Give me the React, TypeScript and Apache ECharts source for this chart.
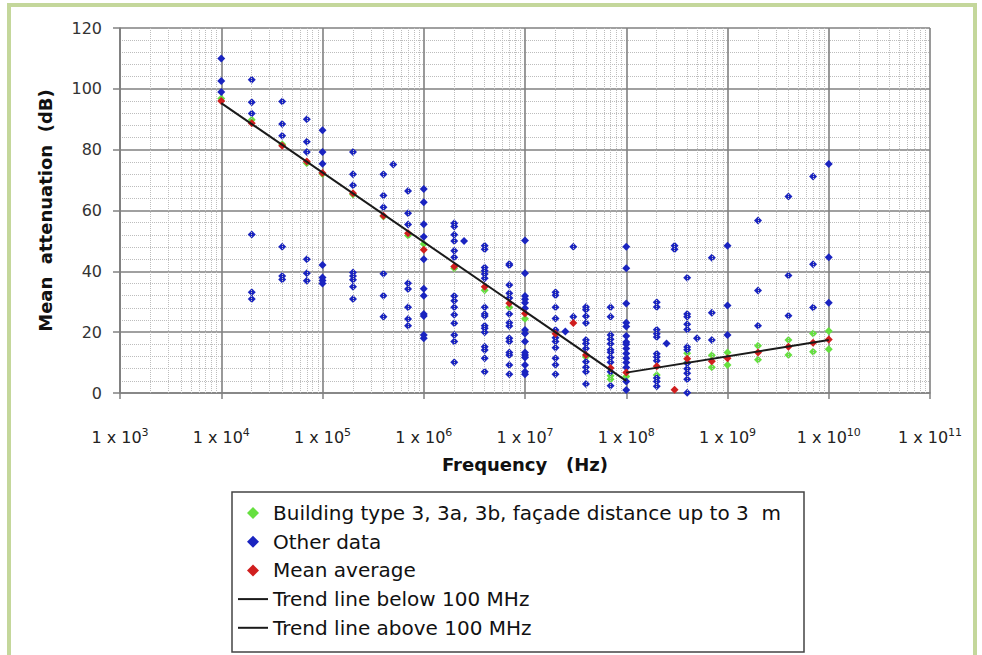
import React, { useEffect, useRef } from "react";
import * as echarts from "echarts";

const FONT = "'DejaVu Sans', 'Liberation Sans', sans-serif";

// Frequency columns (Hz) with measured values (dB)
const blueData: [number, number[]][] = [
  [1e4, [110, 102.6, 99]],
  [2e4, [103, 95.6, 91.9, 52.1, 33.1, 30.9]],
  [4e4, [95.8, 88.4, 84.6, 48.1, 38.5, 37.3]],
  [7e4, [90, 82.6, 79.2, 44.0, 39.4, 36.9]],
  [1e5, [86.4, 79.2, 75.4, 42.1, 38.0, 37.0, 36.0]],
  [2e5, [79.2, 71.9, 68.3, 39.6, 38.5, 37.2, 34.9, 30.9]],
  [4e5, [71.9, 64.9, 61.1, 39.2, 32.0, 25.1]],
  [5e5, [75.1]],
  [7e5, [66.4, 59.1, 55.4, 36.1, 34.2, 28.2, 24.3, 22.1]],
  [1e6, [67.1, 62.7, 55.5, 51.4, 44.0, 34.3, 32.0, 26.0, 25.3, 19.1, 18.0]],
  [2e6, [55.8, 54.7, 52.0, 50.0, 46.8, 44.6, 31.9, 30.3, 28.2, 25.7, 22.9, 19.1, 16.9, 10.1]],
  [2.5e6, [50.0]],
  [4e6, [48.4, 47.3, 41.3, 40.2, 39.1, 37.7, 28.2, 26.0, 25.3, 22.1, 21.3, 20.0, 15.2, 14.1, 11.4, 7.0]],
  [7e6, [42.4, 42.0, 35.5, 32.8, 31.2, 26.0, 23.1, 22.0, 18.0, 16.9, 13.3, 12.5, 9.2, 6.2]],
  [1e7, [50.1, 39.4, 31.9, 30.8, 29.7, 27.9, 20.7, 19.6, 16.9, 13.3, 12.5, 11.7, 9.2, 7.0, 6.2]],
  [2e7, [33.1, 32.1, 28.2, 24.5, 20.7, 18.2, 16.9, 14.9, 11.4, 9.3, 6.2]],
  [2.5e7, [20.2]],
  [3e7, [48.1, 25.1]],
  [4e7, [28.3, 27.4, 25.2, 23.0, 17.4, 16.3, 14.6, 10.3, 8.5, 7.0, 3.0]],
  [7e7, [28.2, 25.1, 19.1, 17.7, 16.2, 14.2, 13.4, 11.7, 10.1, 7.0, 2.4]],
  [1e8, [48.1, 41.0, 29.4, 23.1, 21.9, 18.7, 16.8, 16.0, 14.6, 13.0, 11.4, 10.0, 8.4, 3.8, 1.0]],
  [2e8, [29.8, 28.3, 20.8, 19.5, 18.4, 12.9, 11.8, 10.6, 4.9, 3.8, 2.2]],
  [2.5e8, [16.3]],
  [3e8, [48.4, 47.3]],
  [4e8, [37.9, 26.0, 25.1, 22.6, 20.9, 15.1, 14.2, 9.8, 8.0, 6.5, 4.5, 0.1]],
  [5e8, [18.0]],
  [7e8, [44.5, 26.4, 17.4]],
  [1e9, [48.4, 28.8, 19.1]],
  [2e9, [56.7, 33.7, 22.1]],
  [4e9, [64.6, 38.6, 25.4]],
  [7e9, [71.2, 42.3, 28.1]],
  [1e10, [75.3, 44.6, 29.7]],
];

const greenData: [number, number[]][] = [
  [1e4, [96.8]], [2e4, [89.8]], [4e4, [81.8]], [7e4, [75.5]], [1e5, [72.0]],
  [2e5, [65.3]], [4e5, [58.0]], [7e5, [51.8]], [1e6, [49.0]], [2e6, [41.0]],
  [4e6, [33.8]], [7e6, [28.2]], [1e7, [24.4]], [4e7, [11.8]], [7e7, [5.7, 4.5]],
  [1e8, [5.4]], [2e8, [5.9]], [4e8, [13.1, 10.0]], [7e8, [12.4, 8.5]],
  [1e9, [13.3, 9.2]], [2e9, [15.5, 10.9]], [4e9, [17.4, 12.5]],
  [7e9, [19.6, 13.6]], [1e10, [20.4, 14.4]],
];

const redData: [number, number[]][] = [
  [1e4, [96]], [2e4, [88.7]], [4e4, [81.3]], [7e4, [76.1]], [1e5, [72.3]],
  [2e5, [65.7]], [4e5, [58.3]], [7e5, [52.5]], [1e6, [47.1]], [2e6, [41.6]],
  [4e6, [34.9]], [7e6, [29.5]], [1e7, [26.1]], [2e7, [19.5]], [3e7, [23.0]],
  [4e7, [12.5]], [7e7, [8.2]], [1e8, [6.7]], [2e8, [8.8]], [3e8, [1.1]],
  [4e8, [11.3]], [7e8, [10.4]], [1e9, [11.4]], [2e9, [13.3]], [4e9, [15.2]],
  [7e9, [16.5]], [1e10, [17.6]],
];

const trendBelow: [number, number][] = [[1e4, 95.3], [1e8, 4.0]];
const trendAbove: [number, number][] = [[1e8, 6.7], [1e10, 17.4]];

const legendNames = [
  "Building type 3, 3a, 3b, façade distance up to 3  m",
  "Other data",
  "Mean average",
  "Trend line below 100 MHz",
  "Trend line above 100 MHz",
];

const decades = [3, 4, 5, 6, 7, 8, 9, 10];
const minorMultipliers = [2, 3, 4, 5, 6, 7, 8, 9];

const flatten = (d: [number, number[]][]) =>
  d.flatMap(([f, vals]) => vals.map((v) => [f, v]));

export default function App() {
  const ref = useRef<HTMLDivElement>(null);
  useEffect(() => {
    document.body.style.margin = "0";
    const chart = echarts.init(ref.current!, undefined, { renderer: "svg" });
    const minorLines = decades.flatMap((d) =>
      minorMultipliers.map((m) => ({ xAxis: m * Math.pow(10, d) }))
    );
    const scatterCommon = {
      type: "scatter" as const,
      symbol: "diamond",
      symbolSize: 8,
    };
    const legendText = { fontSize: 20, fontFamily: FONT, color: "#111", lineHeight: 20 };
    chart.setOption({
      animation: false,
      backgroundColor: "#ffffff",
      grid: { left: 120, right: 52, top: 28, bottom: 262, containLabel: false },
      legend: [
        {
          orient: "vertical",
          left: 247,
          top: 503,
          padding: 0,
          itemWidth: 12,
          itemHeight: 12,
          itemGap: 8.7,
          textStyle: { ...legendText, padding: [0, 0, 0, 9] },
          data: legendNames.slice(0, 3).map((n) => ({ name: n, icon: "diamond" })),
        },
        {
          orient: "vertical",
          left: 238,
          top: 503 + 3 * 28.7,
          padding: 0,
          itemWidth: 30,
          itemHeight: 2,
          itemGap: 8.7,
          textStyle: legendText,
          data: legendNames.slice(3).map((n) => ({ name: n, icon: "rect" })),
        },
      ],
      xAxis: {
        type: "log",
        logBase: 10,
        min: 1e3,
        max: 1e11,
        name: "Frequency   (Hz)",
        nameLocation: "middle",
        nameGap: 62,
        nameTextStyle: { fontSize: 18, fontWeight: "bold", fontFamily: FONT, color: "#111" },
        axisLine: { lineStyle: { color: "#808080", width: 1.5 } },
        axisTick: { show: true, inside: false, length: 6, lineStyle: { color: "#808080", width: 1.5 } },
        axisLabel: {
          margin: 34,
          formatter: (v: number) => `{b|1 x 10}{s|${Math.round(Math.log10(v))}}`,
          rich: {
            b: { fontSize: 16, fontFamily: FONT, color: "#222" },
            s: { fontSize: 11, fontFamily: FONT, color: "#222", padding: [0, 0, 9, 0] },
          },
        },
        splitLine: { show: true, lineStyle: { color: "#808080", width: 1.6 } },
      },
      yAxis: {
        type: "value",
        min: 0,
        max: 120,
        interval: 20,
        name: "Mean  attenuation  (dB)",
        nameLocation: "middle",
        nameRotate: 90,
        nameGap: 66,
        nameTextStyle: { fontSize: 18, fontWeight: "bold", fontFamily: FONT, color: "#111" },
        axisLine: { show: true, lineStyle: { color: "#808080", width: 1.5 } },
        axisTick: { show: true, inside: false, length: 7, lineStyle: { color: "#808080", width: 1.5 } },
        axisLabel: { margin: 18, fontSize: 16, fontFamily: FONT, color: "#333" },
        splitLine: { show: true, lineStyle: { color: "#808080", width: 1.6 } },
        minorTick: { show: false, splitNumber: 5 },
        minorSplitLine: { show: true, lineStyle: { color: "#bdbdbd", width: 1, type: "dotted" } },
      },
      graphic: [
        {
          type: "rect",
          shape: { x: 9, y: 5, width: 966, height: 680 },
          style: { fill: "none", stroke: "#c4d79b", lineWidth: 4 },
          silent: true,
          z: 100,
        },
        {
          type: "rect",
          shape: { x: 232, y: 492, width: 572, height: 160 },
          style: { fill: "none", stroke: "#444", lineWidth: 1.5 },
          silent: true,
        },
      ],
      series: [
        {
          type: "scatter",
          name: "minor",
          data: [],
          silent: true,
          markLine: {
            silent: true,
            symbol: ["none", "none"],
            label: { show: false },
            lineStyle: { color: "#bdbdbd", width: 1, type: "dotted" },
            data: minorLines,
          },
          z: 1,
        },
        {
          ...scatterCommon,
          name: legendNames[0],
          itemStyle: { color: "#66e040", opacity: 1 },
          data: flatten(greenData),
          z: 3,
        },
        {
          ...scatterCommon,
          name: legendNames[1],
          itemStyle: { color: "#1a24c0", opacity: 1 },
          data: flatten(blueData),
          z: 4,
        },
        {
          ...scatterCommon,
          name: legendNames[2],
          itemStyle: { color: "#d01e1e", opacity: 1 },
          data: flatten(redData),
          z: 5,
        },
        {
          type: "line",
          name: legendNames[3],
          data: trendBelow,
          symbol: "none",
          lineStyle: { color: "#1a1a1a", width: 2 },
          itemStyle: { color: "#1a1a1a" },
          z: 6,
        },
        {
          type: "line",
          name: legendNames[4],
          data: trendAbove,
          symbol: "none",
          lineStyle: { color: "#1a1a1a", width: 2 },
          itemStyle: { color: "#1a1a1a" },
          z: 6,
        },
      ],
    });
    return () => chart.dispose();
  }, []);
  return <div ref={ref} style={{ width: 982, height: 655 }} />;
}
